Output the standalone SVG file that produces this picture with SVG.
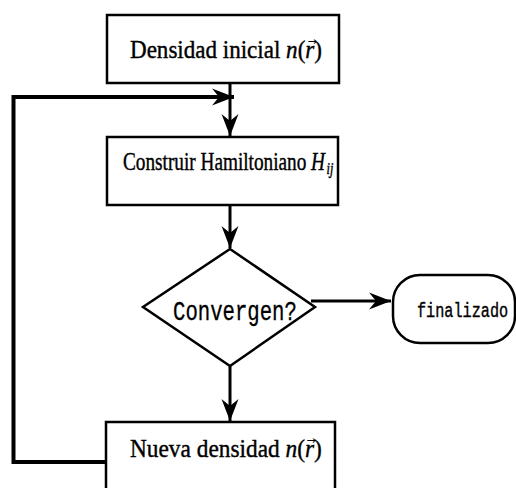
<svg xmlns="http://www.w3.org/2000/svg" width="516" height="488" viewBox="0 0 516 488">
<style>
.box{fill:#fff;stroke:#000;stroke-width:2.5}
.lbl{font-family:"Liberation Serif","DejaVu Serif",serif;font-size:25px;fill:#000;stroke:#000;stroke-width:0.4}
.vec{font-family:"DejaVu Sans","Liberation Sans",sans-serif;font-size:11px;fill:#000;text-anchor:middle}
.mono{font-family:"Liberation Mono","DejaVu Sans Mono",monospace;fill:#000;stroke:#000;stroke-width:0.3}
.conn{fill:none;stroke:#000;stroke-width:3}
.loop{fill:none;stroke:#000;stroke-width:4}
</style>
<defs>
<marker id="arr" viewBox="-24 -10 26 20" refX="0" refY="0" markerWidth="26" markerHeight="20" markerUnits="userSpaceOnUse" orient="auto">
<path d="M0,0 L-22,-8.5 L-15,0 L-22,8.5 Z" fill="#000"/>
</marker>
</defs>
<rect width="516" height="488" fill="#fff"/>
<g id="connectors">
<path class="conn" d="M230,83 V136" marker-end="url(#arr)"/>
<path class="conn" d="M230,205 V248" marker-end="url(#arr)"/>
<path class="conn" d="M311,301 H391" marker-end="url(#arr)"/>
<path class="conn" d="M230,366 V421" marker-end="url(#arr)"/>
<path class="loop" d="M106,462 H13.5 V97 H234" marker-end="url(#arr)"/>
</g>
<g id="n1">
<rect class="box" x="107" y="15" width="232" height="68"/>
<text class="lbl" transform="translate(130,58) scale(0.922,1)" x="0" y="0">Densidad inicial <tspan font-style="italic">n</tspan>(<tspan font-style="italic">r</tspan>)</text>
<text class="vec" x="312" y="45">→</text>
</g>
<g id="n2">
<rect class="box" x="107" y="137" width="231" height="68"/>
<text class="lbl" transform="translate(123,170) scale(0.77,1)" x="0" y="0" font-size="24">Construir Hamiltoniano <tspan font-style="italic">H</tspan><tspan font-style="italic" font-size="16" dx="2" dy="4">ij</tspan></text>
</g>
<g id="n3">
<polygon class="box" points="230,249 315,307 230,366 143,307"/>
<text class="mono" transform="translate(173,320) scale(0.765,1)" x="0" y="0" font-size="27">Convergen?</text>
</g>
<g id="n4">
<rect class="box" x="393" y="275" width="122" height="68" rx="27"/>
<text class="mono" transform="translate(417,317) scale(0.95,1.3)" x="0" y="0" font-size="16">finalizado</text>
</g>
<g id="n5">
<rect class="box" x="106" y="422" width="229" height="90"/>
<text class="lbl" transform="translate(130,457) scale(0.934,1)" x="0" y="0">Nueva densidad <tspan font-style="italic">n</tspan>(<tspan font-style="italic">r</tspan>)</text>
<text class="vec" x="311" y="444">→</text>
</g>
</svg>
